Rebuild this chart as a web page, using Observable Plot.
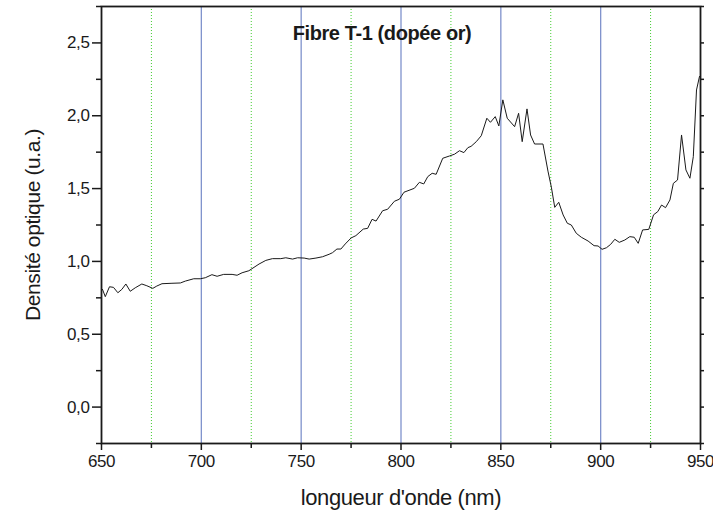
<!DOCTYPE html>
<html><head><meta charset="utf-8">
<script src="https://cdn.jsdelivr.net/npm/d3@7"></script>
<script src="https://cdn.jsdelivr.net/npm/@observablehq/plot@0.6"></script>
<style>
html,body{margin:0;padding:0;background:#fff;}
svg text{letter-spacing:-0.4px;}
</style></head><body><div id="chart"></div>
<script>
const wavelength = [650.5,651.9,654,656,658.2,660.2,662.2,664.4,666.9,670.2,672.7,675.7,677.7,680.3,685.3,689.5,692,696.2,699.5,702,705.3,707.9,711.2,715.4,717.9,720.4,723.8,728.9,732.3,735.6,739.8,742.3,745.7,748.2,751.5,754,757.4,760.7,764,765.7,767.9,769.9,772.1,775,777.4,781.1,783.3,785.5,787.5,790.8,793.3,796.7,799.2,801.5,806.7,809.2,811.4,813.4,815.6,817.6,820.9,824.3,826.8,829.3,831.5,833.5,835.1,837.7,840.2,843,844.8,847.2,849,851,853.2,856.9,858.9,860.7,863.1,864.9,866.9,871.1,873.6,875.3,877,879,881.2,883.3,885.3,887.8,890.3,893.7,896.7,898.7,900.7,902.9,905,907.1,909.3,912.1,914.6,916.8,918.8,921,924.1,926.5,928.6,930.5,932.5,934.7,936.4,938.5,940.5,942.7,944.7,946.4,948,949.5];
const density = [0.808,0.758,0.826,0.822,0.785,0.808,0.845,0.795,0.819,0.845,0.833,0.815,0.831,0.847,0.850,0.852,0.865,0.881,0.881,0.888,0.909,0.898,0.911,0.911,0.905,0.922,0.936,0.982,1.007,1.019,1.019,1.025,1.016,1.025,1.023,1.016,1.023,1.032,1.049,1.060,1.085,1.085,1.120,1.161,1.177,1.222,1.227,1.289,1.277,1.348,1.358,1.413,1.427,1.475,1.502,1.543,1.532,1.582,1.605,1.598,1.708,1.724,1.736,1.760,1.747,1.781,1.790,1.822,1.863,1.983,1.955,1.994,1.930,2.109,1.983,1.925,2.017,1.822,2.047,1.868,1.806,1.806,1.62,1.51,1.371,1.406,1.319,1.262,1.25,1.193,1.166,1.140,1.108,1.106,1.083,1.094,1.117,1.152,1.131,1.147,1.170,1.166,1.124,1.216,1.220,1.32,1.342,1.387,1.369,1.422,1.536,1.559,1.868,1.628,1.571,1.719,2.177,2.27];

const xMajorTicks = [650,700,750,800,850,900,950];
const xMinorTicks = [675,725,775,825,875,925];
const yMajorTicks = [0,0.5,1,1.5,2,2.5];
const yMinorTicks = [-0.25,0.25,0.75,1.25,1.75,2.25,2.75];
const blueGrid = [700,750,800,850,900];
const greenGrid = [675,725,775,825,875,925];
const titleText = "Fibre T-1 (dopée or)";
const xLabel = "longueur d'onde (nm)";
const yLabel = "Densité optique (u.a.)";

const data = wavelength.map((w, i) => ({w, d: density[i]}));
const fmt = d => d3.format(".1f")(d).replace(".", ",");
const font = "'Liberation Sans', Arial, sans-serif";

const chart = Plot.plot({
  width: 713, height: 513,
  marginLeft: 101, marginRight: 13, marginTop: 6, marginBottom: 70,
  style: {fontFamily: font, background: "#fff", color: "#1a1a1a", overflow: "visible"},
  x: {domain: [650, 950]},
  y: {domain: [-0.25, 2.75]},
  marks: [
    Plot.ruleX(greenGrid, {x: d => d, stroke: "#44cc33", strokeDasharray: "1,2", strokeWidth: 1}),
    Plot.ruleX(blueGrid, {x: d => d, stroke: "#7f92cc", strokeWidth: 1.3}),
    Plot.line(data, {x: "w", y: "d", stroke: "#1a1a1a", strokeWidth: 1}),
    Plot.axisY(yMajorTicks, {tickSize: 9, tickFormat: fmt, fontSize: 17, tickPadding: 3, label: null, strokeWidth: 1.5}),
    Plot.axisY(yMinorTicks, {tickSize: 5, tickFormat: () => "", label: null, strokeWidth: 1.5}),
    Plot.axisY(yMajorTicks.concat(yMinorTicks), {anchor: "right", tickSize: 3, tickFormat: () => "", label: null, strokeWidth: 1.5}),
    Plot.axisX(xMajorTicks, {tickSize: 7, tickFormat: d => String(d), fontSize: 17, tickPadding: 4, label: null, strokeWidth: 1.5}),
    Plot.axisX(xMinorTicks, {tickSize: 5, tickFormat: () => "", label: null, strokeWidth: 1.5}),
    Plot.frame({stroke: "#1a1a1a", strokeWidth: 1.8}),
    Plot.text([titleText], {text: d => d, frameAnchor: "top", lineAnchor: "middle", dy: 27, dx: -19, fontWeight: "bold", fontSize: 20, fill: "#1a1a1a"}),
    Plot.text([xLabel], {text: d => d, frameAnchor: "bottom", lineAnchor: "middle", dy: 54, fontSize: 22, fill: "#1a1a1a"}),
    Plot.text([yLabel], {text: d => d, frameAnchor: "left", textAnchor: "middle", lineAnchor: "middle", dx: -68, rotate: -90, fontSize: 21, fill: "#1a1a1a"})
  ]
});
document.getElementById("chart").appendChild(chart);
</script>
</body></html>
